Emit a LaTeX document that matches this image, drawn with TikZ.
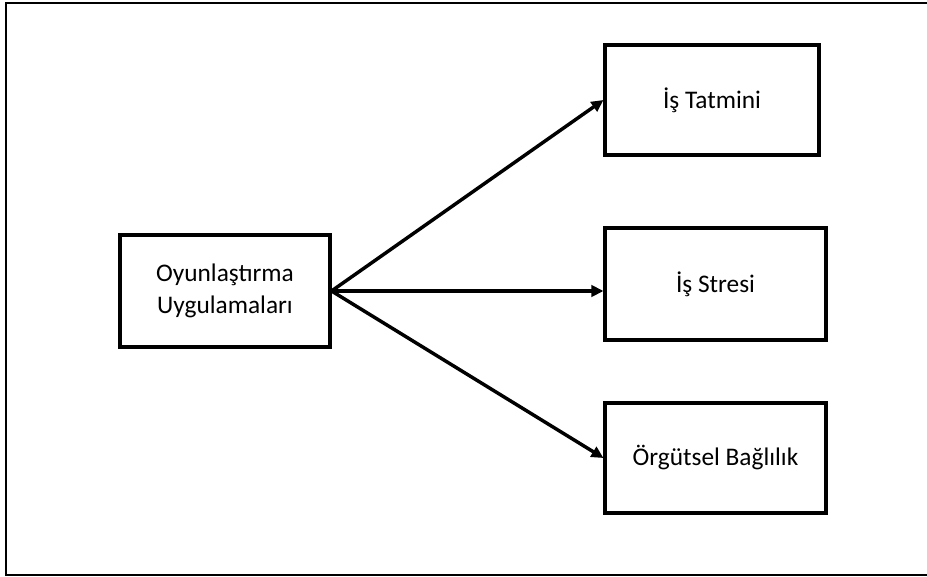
\documentclass[tikz,border=0pt]{standalone}
\usepackage{fontspec}
\setmainfont{Carlito}
\usetikzlibrary{arrows.meta}
\begin{document}
\begin{tikzpicture}[x=0.75pt,y=-0.75pt,
  box/.style={draw=black,line width=2.3pt,fill=white,align=center,inner sep=0pt,font=\fontsize{19}{24}\selectfont},
  conn/.style={line width=2.6pt,-{Triangle[length=9pt,width=8.5pt]}}]
\useasboundingbox (0,0) rectangle (927,577);
\begin{scope}
\clip (0,0) rectangle (927,577);
\draw[line width=1.6pt] (6,3) rectangle (940,575);
\end{scope}
\node[box,minimum width=210*0.75pt,minimum height=112*0.75pt] (L) at (225,291) {Oyunlaştırma\\Uygulamaları};
\node[box,minimum width=214*0.75pt,minimum height=110*0.75pt] (T) at (712,100) {İş Tatmini};
\node[box,minimum width=221*0.75pt,minimum height=112*0.75pt] (M) at (715.5,284) {İş Stresi};
\node[box,minimum width=221*0.75pt,minimum height=110*0.75pt] (B) at (715.5,458) {Örgütsel Bağlılık};
\draw[conn] (L.east) -- (T.west);
\draw[conn] (L.east) -- (L.east -| M.west);
\draw[conn] (L.east) -- (B.west);
\end{tikzpicture}
\end{document}
